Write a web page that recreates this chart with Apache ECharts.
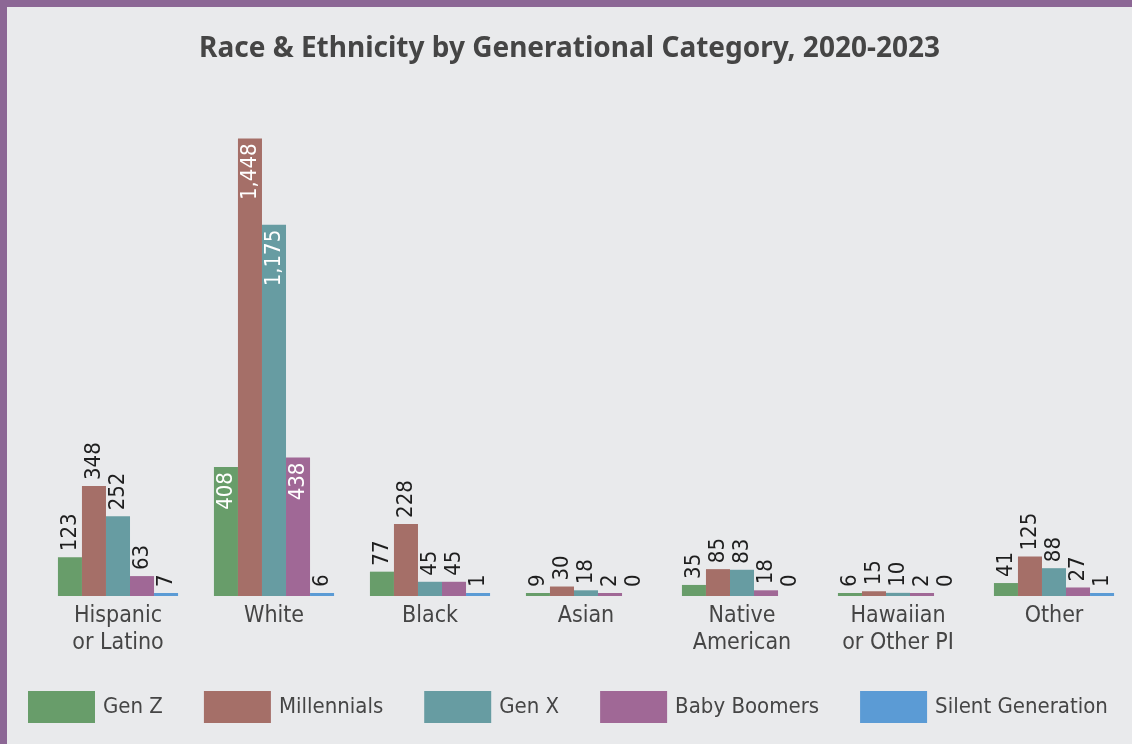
<!DOCTYPE html>
<html><head><meta charset="utf-8">
<script src="https://cdn.jsdelivr.net/npm/echarts@6/dist/echarts.min.js"></script>
<style>
html,body{margin:0;padding:0;width:1132px;height:744px;overflow:hidden;background:#8c6795;}
#frame{position:absolute;left:7px;top:7px;width:1125px;height:737px;background:#e9eaec;}
#chart{width:1125px;height:737px;}
</style></head>
<body><div id="frame"><div id="chart"></div></div>
<script>
const categories = ['Hispanic\nor Latino','White','Black','Asian','Native\nAmerican','Hawaiian\nor Other PI','Other'];
const seriesNames = ['Gen Z','Millennials','Gen X','Baby Boomers','Silent Generation'];
const genZ = [123,408,77,9,35,6,41];
const millennials = [348,1448,228,30,85,15,125];
const genX = [252,1175,45,18,83,10,88];
const babyBoomers = [63,438,45,2,18,2,27];
const silentGen = [7,6,1,0,0,0,1];
const colors = ['#689d6a','#a56f68','#679ca2','#a06896','#5b9bd5'];

const FONT = '"Liberation Sans Narrow","Arial Narrow","DejaVu Sans Condensed",Roboto,sans-serif';
const INSIDE_MIN = 400;
const fmt = v => v.toLocaleString('en-US');

function item(v){
  const inside = v >= INSIDE_MIN;
  const d = {value: v};
  if (v === 0) d.itemStyle = {color: 'transparent'};
  d.label = inside
    ? {position:'insideTop', align:'right', color:'#ffffff', distance:5}
    : {position:'top', align:'left', color:'#1e1e1e', distance:6};
  return d;
}

const allData = [genZ, millennials, genX, babyBoomers, silentGen];
const series = allData.map((arr, i) => ({
  name: seriesNames[i],
  type: 'bar',
  barGap: '0%',
  barCategoryGap: '23%',
  barMinHeight: 3,
  itemStyle: {color: colors[i]},
  label: {show: true, rotate: 90, verticalAlign: 'middle', fontFamily: FONT, fontSize: 22,
    formatter: p => fmt(p.value)},
  data: arr.map(item)
}));

const chart = echarts.init(document.getElementById('chart'));
chart.setOption({
  animation: false,
  backgroundColor: '#e9eaec',
  color: colors,
  title: {text: 'Race & Ethnicity by Generational Category, 2020-2023', left: 'center', top: 23,
    textStyle: {fontFamily: '"Noto Sans","Open Sans",sans-serif', fontWeight: 'bold', fontSize: 28, color: '#454545'}},
  legend: {top: 679, left: 16, width: 1100, itemWidth: 67, itemHeight: 32, itemGap: 41, icon: 'rect',
    textStyle: {fontFamily: FONT, fontSize: 22, color: '#454545', padding: [0,0,0,3]},
    data: seriesNames},
  grid: {left: 33, width: 1094, top: 115, bottom: 148, containLabel: false},
  xAxis: {type: 'category', data: categories,
    axisLine: {show: false}, axisTick: {show: false},
    axisLabel: {fontFamily: FONT, fontSize: 23, color: '#454545', lineHeight: 27, margin: 7, interval: 0}},
  yAxis: {type: 'value', min: 0, max: 1500, show: false, splitLine: {show: false}},
  series
});
</script></body></html>
